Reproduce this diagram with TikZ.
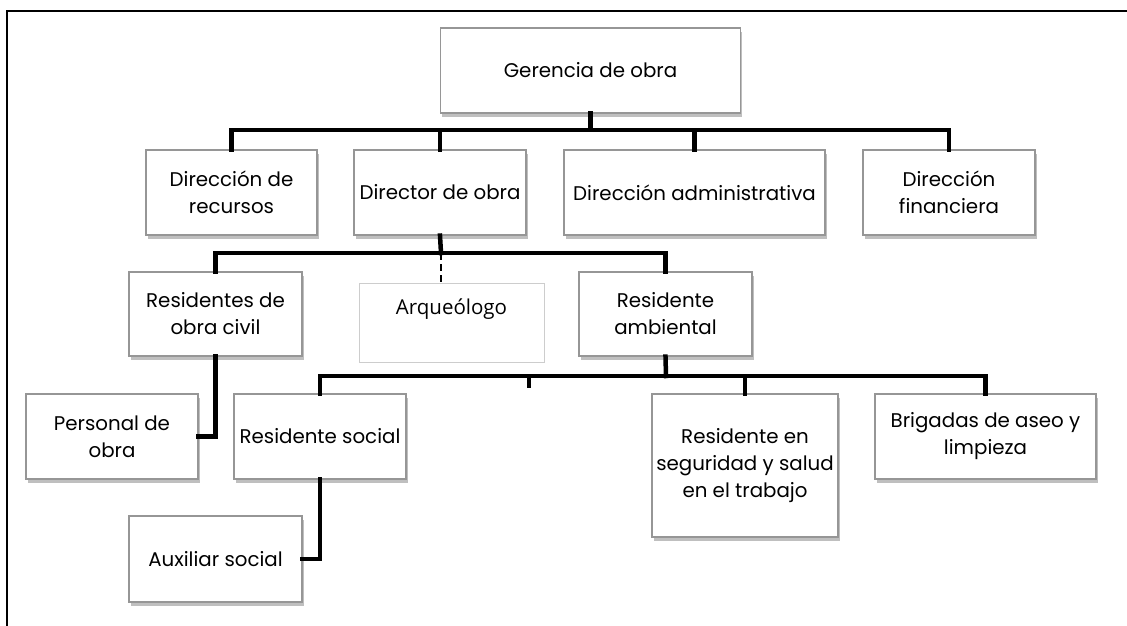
\documentclass[tikz,border=0pt]{standalone}
\usepackage{fontspec}
\setmainfont{Poppins}
\newfontfamily\arqfont{Open Sans}
\usetikzlibrary{shadows}
\definecolor{BoxGray}{RGB}{150,150,150}
\definecolor{ArqGray}{RGB}{205,205,205}
\tikzset{
	box/.style={draw=BoxGray,line width=1.2pt,fill=white,align=center,inner sep=0pt,
		font=\fontsize{19.8}{27}\selectfont,
		drop shadow={shadow xshift=1.5pt,shadow yshift=-4pt,opacity=0.5,fill=gray}},
	boxsize/.style 2 args={minimum width=#1pt,minimum height=#2pt},
	arqbox/.style={draw=ArqGray,line width=1pt,fill=white,inner sep=0pt},
	conn/.style={line width=4.5pt,line join=miter,line cap=rect},
	dashconn/.style={line width=1.5pt,dash pattern=on 7pt off 4pt}
}
\begin{document}
\begin{tikzpicture}[x=1pt,y=-1pt]
		\useasboundingbox (0,0) rectangle (1127,626);
		
		% marco
		\draw[line width=2pt] (7,626) -- (7,11) -- (1127,11);
		
		% nivel 1
		\node[box,boxsize={300}{85}] (ger) at (590.5,70.5) {Gerencia de obra};
		
		% nivel 2
		\node[box,boxsize={171}{85}] (rec) at (231.5,192.5) {Dirección de\\recursos};
		\node[box,boxsize={172}{85}] (dir) at (440,192.5) {Director de obra};
		\node[box,boxsize={261}{85}] (adm) at (694.5,192.5) {Dirección administrativa};
		\node[box,boxsize={172}{85}] (fin) at (949,192.5) {Dirección\\financiera};
		
		% nivel 3
		\node[box,boxsize={173}{84}] (civ) at (215.5,314) {Residentes de\\obra civil};
		\node[arqbox,boxsize={185}{79},
			label={[font=\arqfont\fontsize{20.5}{24}\selectfont,anchor=center,yshift=-27pt]north:Arqueólogo}]
			(arq) at (451.5,322.5) {};
		\node[box,boxsize={173}{84}] (amb) at (665.5,314) {Residente\\ambiental};
		
		% nivel 4
		\node[box,boxsize={172}{85}] (per) at (112,436.5) {Personal de\\obra};
		\node[box,boxsize={172}{85}] (soc) at (320,436.5) {Residente social};
		\node[box,boxsize={186}{143}] (seg) at (745,465.5) {Residente en\\seguridad y salud\\en el trabajo};
		\node[box,boxsize={221}{85}] (bri) at (985.5,436.5) {Brigadas de aseo y\\limpieza};
		\node[box,boxsize={173}{86}] (aux) at (215.5,559) {Auxiliar social};
		
		% barras
		\coordinate (busA) at (590.5,130);
		\coordinate (busB) at (441,253);
		\coordinate (busC) at (666,376);
		\coordinate (tick) at (529,388);
		
		% conexiones nivel 1 -> 2
		\draw[conn] (ger.south) -- (busA);
		\draw[conn] (rec.north) -- (rec.north |- busA) -- (fin.north |- busA) -- (fin.north);
		\draw[conn] (dir.north) -- (dir.north |- busA);
		\draw[conn] (adm.north) -- (adm.north |- busA);
		
		% conexiones nivel 2 -> 3
		\draw[conn] (dir.south) -- (busB);
		\draw[conn] (civ.north) -- (civ.north |- busB) -- (amb.north |- busB) -- (amb.north);
		\draw[dashconn] (busB) -- (busB |- arq.north);
		
		% conexiones nivel 3 -> 4
		\draw[conn] (amb.south) -- (busC);
		\draw[conn] (soc.north) -- (soc.north |- busC) -- (bri.north |- busC) -- (bri.north);
		\draw[conn] (seg.north) -- (seg.north |- busC);
		\draw[line width=3.5pt] (tick |- busC) -- (tick);
		\draw[conn] (civ.south) |- (per.east);
		\draw[conn] (soc.south) |- (aux.east);
	\end{tikzpicture}
\end{document}
